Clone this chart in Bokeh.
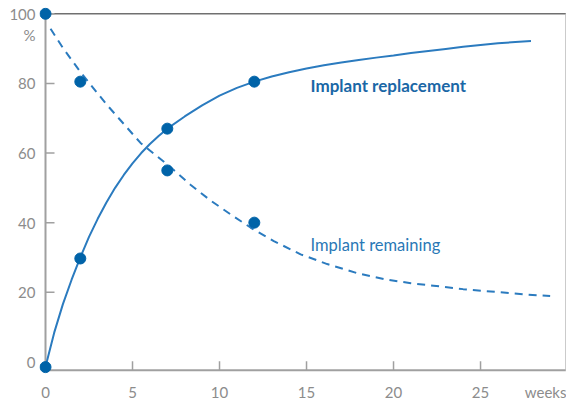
from bokeh.plotting import figure
from bokeh.models import FixedTicker, Label, Range1d
from bokeh.embed import file_html
from bokeh.resources import INLINE

# measured points
rep_x = [0, 2, 7, 12]
rep_y = [-1.5, 29.7, 67, 80.5]
rem_x = [0, 2, 7, 12]
rem_y = [100, 80.5, 55, 40]

# fitted curves
rep_curve_x = [0, 0.5, 1.0, 1.5, 2.0, 2.5, 3.0, 3.5, 4.0, 4.5, 5.0, 5.5, 6.0, 6.5, 7.0,
               8, 9, 10, 11, 12, 13, 14, 15, 16, 17, 18, 19, 20, 21, 22, 23, 24, 25,
               26, 27, 27.9]
rep_curve_y = [-1.4, 8.4, 16.6, 23.6, 30.0, 35.9, 41.1, 45.8, 50.0, 53.7, 57.0, 60.0,
               62.6, 64.9, 67.0, 70.5, 73.7, 76.5, 78.7, 80.5, 82.0, 83.2, 84.3, 85.2,
               86.0, 86.7, 87.4, 88.0, 88.7, 89.3, 89.9, 90.5, 91.0, 91.5, 91.9, 92.2]
rem_curve_x = [0.29, 1.0, 2.0, 3.5, 5.46, 7.0, 8.33, 9.5, 10.63, 11.78, 13.12, 14.66,
               16.19, 17.9, 19.64, 21.0, 22.3, 24.0, 26.1, 27.5, 29.0]
rem_curve_y = [95.7, 90.2, 83.3, 74.0, 62.9, 56.7, 50.9, 46.3, 42.4, 38.6, 34.7, 30.9,
               28.1, 25.5, 23.6, 22.6, 21.9, 20.9, 20.0, 19.4, 18.9]

x_ticks = [5, 10, 15, 20, 25]
x_labels = {0: "0", 5: "5", 10: "10", 15: "15", 20: "20", 25: "25", 28.74: "weeks"}
y_ticks = [20, 40, 60, 80, 100]
y_labels = {0: "0", 20: "20", 40: "40", 60: "60", 80: "80", 93.8: "%", 100: "100"}

X_START, X_END = -0.345, 29.94
Y_START, Y_END = -3.91, 101.8
X_AXIS_Y = -2.37      # where the x axis line sits
RIGHT_X = 29.9        # right border
TOP_Y = 100           # top border

POINT = "#0063a8"
LINE = "#2b7bbf"
GREY = "#8c8c8c"
AXIS = "#a0a0a0"
FONT = "Lato"

p = figure(width=566, height=403, output_backend="svg", toolbar_location=None,
           x_range=Range1d(X_START, X_END), y_range=Range1d(Y_START, Y_END),
           min_border_left=39, min_border_right=0, min_border_top=7, min_border_bottom=26)
p.outline_line_color = None
p.xgrid.visible = False
p.ygrid.visible = False
p.background_fill_color = "white"
p.border_fill_color = "white"

for ax in (p.xaxis[0], p.yaxis[0]):
    ax.axis_line_color = None
    ax.major_tick_line_color = None
    ax.minor_tick_line_color = None
    ax.major_tick_in = 0
    ax.major_tick_out = 0
    ax.major_label_text_font = FONT
    ax.major_label_text_font_size = "15px"
    ax.major_label_text_color = GREY

p.xaxis[0].ticker = FixedTicker(ticks=list(x_labels.keys()))
p.xaxis[0].major_label_overrides = x_labels
p.xaxis[0].major_label_standoff = 7
p.yaxis[0].ticker = FixedTicker(ticks=list(y_labels.keys()))
p.yaxis[0].major_label_overrides = y_labels
p.yaxis[0].major_label_standoff = 4

# axis lines and borders
p.segment(x0=[0], y0=[X_AXIS_Y], x1=[0], y1=[TOP_Y], line_color=AXIS, line_width=2)
p.segment(x0=[0], y0=[X_AXIS_Y], x1=[RIGHT_X], y1=[X_AXIS_Y], line_color=AXIS, line_width=2)
p.segment(x0=[0], y0=[TOP_Y], x1=[RIGHT_X], y1=[TOP_Y], line_color="#707070", line_width=1.5)
p.segment(x0=[RIGHT_X], y0=[X_AXIS_Y], x1=[RIGHT_X], y1=[TOP_Y], line_color="#b5b5b5", line_width=1)

# tick marks (inside, 9 px)
tick_dx = 9 / 17.4
tick_dy = 9 / 3.5
p.segment(x0=[0] * len(y_ticks), y0=y_ticks, x1=[tick_dx] * len(y_ticks), y1=y_ticks,
          line_color=AXIS, line_width=1.5)
p.segment(x0=x_ticks, y0=[X_AXIS_Y] * len(x_ticks), x1=x_ticks,
          y1=[X_AXIS_Y + tick_dy] * len(x_ticks), line_color=AXIS, line_width=1.5)

# curves
p.line(rep_curve_x, rep_curve_y, line_color=LINE, line_width=2)
p.line(rem_curve_x, rem_curve_y, line_color=LINE, line_width=2, line_dash="8 6")

# points
p.scatter(rep_x, rep_y, size=11, fill_color=POINT, line_color=POINT)
p.scatter(rem_x, rem_y, size=11, fill_color=POINT, line_color=POINT)

# series labels
p.add_layout(Label(x=15.23, y=79.4, text="Implant replacement", text_align="left",
                   text_baseline="alphabetic", text_font=FONT, text_font_size="17px",
                   text_font_style="bold", text_color="#1a67a6"))
p.add_layout(Label(x=15.23, y=33.7, text="Implant remaining", text_align="left",
                   text_baseline="alphabetic", text_font=FONT, text_font_size="16.5px",
                   text_color="#2a78b6"))

open("out.html", "w").write(file_html(p, INLINE))
